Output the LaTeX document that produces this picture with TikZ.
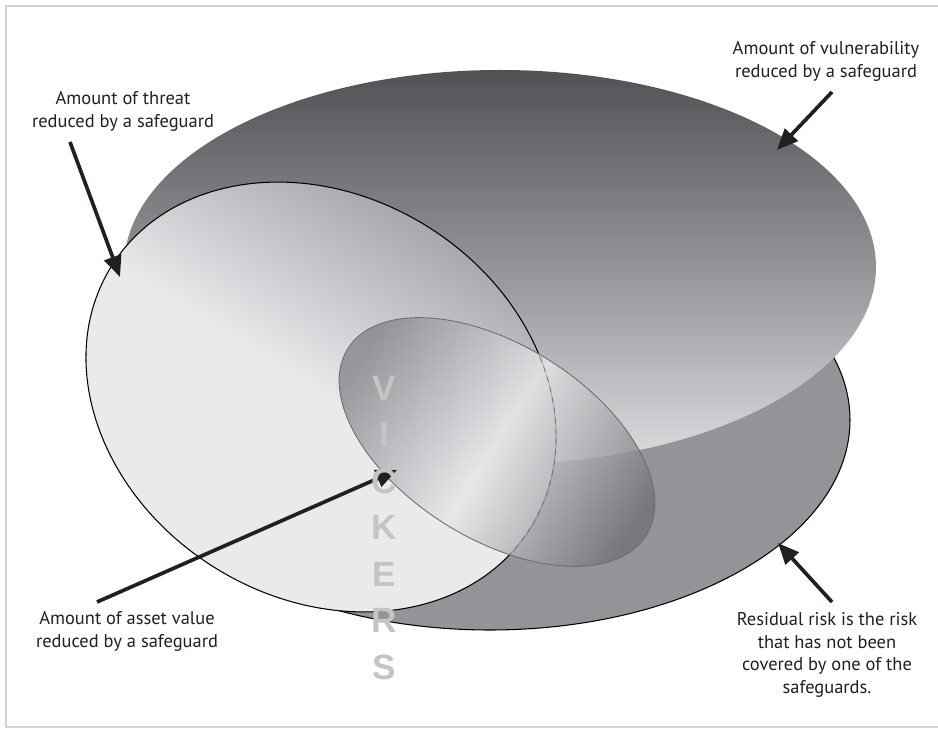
\documentclass[tikz,border=0pt]{standalone}
\usepackage{fontspec}
\setmainfont{PT Sans}
\newfontfamily\markfont{Liberation Sans}
\usetikzlibrary{arrows.meta}
\definecolor{Ink}{HTML}{231F20}
\definecolor{FaceTop}{HTML}{525256}
\definecolor{FaceMid}{HTML}{939498}
\definecolor{FaceBot}{HTML}{DCDDDF}
\definecolor{Rim}{HTML}{939498}
\definecolor{ThreatTop}{HTML}{96979B}
\definecolor{ThreatLow}{HTML}{E9EAEC}
\definecolor{AssetEdge}{HTML}{85868A}
\definecolor{AssetMid}{HTML}{E6E7E9}
\definecolor{AssetLine}{HTML}{6E6E72}
\definecolor{Frame}{HTML}{D4D4D4}
\definecolor{Mark}{HTML}{C4C4C4}
\tikzset{
  lab/.style={font=\fontsize{10.5}{13}\selectfont,text=Ink,align=center,inner sep=0pt},
  ptr/.style={-{Triangle[length=12pt,width=10pt]},line width=2.1pt,draw=Ink},
  outline/.style={draw=black,line width=.6pt},
  wm/.style={font=\markfont\bfseries\fontsize{20}{20}\selectfont,text=Mark,inner sep=0pt},
  framing/.style={draw=Frame,line width=1.2pt}
}
\begin{document}
\begin{tikzpicture}[x=0.02cm,y=-0.02cm]
    \useasboundingbox (0,0) rectangle (938,729);
    \draw[framing] (938,6) -- (6,6) -- (6,727) -- (938,727);
    \fill[Rim] (490,420) ellipse [x radius=360,y radius=210];
    \draw[outline] (490,420) ellipse [x radius=360,y radius=210];
    \shade[top color=FaceTop,bottom color=FaceBot,middle color=FaceMid] (500,267) ellipse [x radius=376,y radius=197];
    \shade[top color=ThreatTop,bottom color=ThreatLow,middle color=ThreatLow,shading angle=-32,rotate around={-32:(321,397)}] (321,397) ellipse [x radius=247,y radius=201];
    \draw[outline,rotate around={-32:(321,397)}] (321,397) ellipse [x radius=247,y radius=201];
    \shade[left color=AssetEdge,right color=AssetEdge!85!black,middle color=AssetMid,shading angle=58,fill opacity=.8,rotate around={-32:(497,442)}] (497,442) ellipse [x radius=176,y radius=97];
    \begin{scope}
      \clip[rotate around={-32:(497,442)}] (497,442) ellipse [x radius=176,y radius=97];
      \draw[AssetLine,dashed,line width=.4pt,rotate around={-32:(321,397)}] (321,397) ellipse [x radius=247,y radius=201];
    \end{scope}
    \draw[AssetLine,line width=.5pt,rotate around={-32:(497,442)}] (497,442) ellipse [x radius=176,y radius=97];
    \node[lab] (threat) at (123,111) {Amount of threat\\reduced by a safeguard};
    \node[lab] (vuln) at (826,61) {Amount of vulnerability\\reduced by a safeguard};
    \node[lab] (asset) at (127,631) {Amount of asset value\\reduced by a safeguard};
    \node[lab] (resid) at (827,655) {Residual risk is the risk\\that has not been\\covered by one of the\\safeguards.};
    \coordinate (threat tail) at (70,142); \coordinate (threat tip) at (120,277);
    \coordinate (vuln tail) at (832,92); \coordinate (vuln tip) at (777,150);
    \coordinate (asset tail) at (97,602); \coordinate (asset tip) at (397,470);
    \coordinate (resid tail) at (832,602); \coordinate (resid tip) at (778,543);
    \draw[ptr] (threat tail) -- (threat tip);
    \draw[ptr] (vuln tail) -- (vuln tip);
    \draw[ptr] (asset tail) -- (asset tip);
    \draw[ptr] (resid tail) -- (resid tip);
    \foreach \ch [count=\i from 0] in {V,I,C,K,E,R,S}
      \node[wm] (mark\i) at (384,388+46.5*\i) {\ch};
  \end{tikzpicture}
\end{document}
